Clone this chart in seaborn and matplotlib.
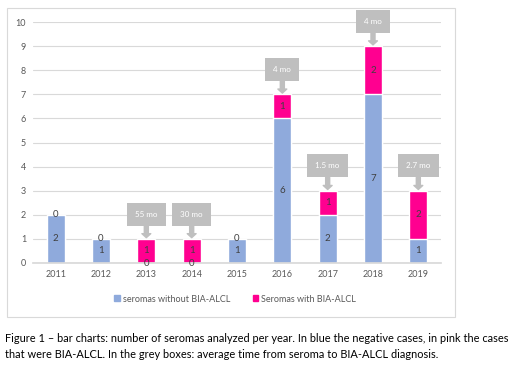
import matplotlib
matplotlib.use("Agg")
import matplotlib.pyplot as plt
import seaborn as sns
import pandas as pd
from matplotlib.patches import Rectangle, Patch

# data
years = ["2011", "2012", "2013", "2014", "2015", "2016", "2017", "2018", "2019"]
without_alcl = [2, 1, 0, 0, 1, 6, 2, 7, 1]
with_alcl = [0, 0, 1, 1, 0, 1, 1, 2, 2]
# average time from seroma to diagnosis (grey boxes), None = no box
time_to_dx = [None, None, "55 mo", "30 mo", None, "4 mo", "1.5 mo", "4 mo", "2.7 mo"]

blue = "#8faadc"
pink = "#ff0090"
grey_box = "#bfbfbf"
text_grey = "#595959"

df = pd.DataFrame({"year": years, "neg": without_alcl, "pos": with_alcl})
df["total"] = df["neg"] + df["pos"]

sns.set_theme(style="white")
plt.rcParams["font.family"] = ["Lato", "DejaVu Sans"]

fig = plt.figure(figsize=(5.2, 3.74), dpi=100)
ax = fig.add_axes([33 / 520, 1 - 263 / 374, (441 - 33) / 520, (263 - 22) / 374])

# stacked bars: total in pink, negatives drawn over in blue
sns.barplot(data=df, x="year", y="total", color=pink, width=0.39, saturation=1, ax=ax)
sns.barplot(data=df, x="year", y="neg", color=blue, width=0.39, saturation=1, ax=ax)

ax.set_ylim(0, 10)
ax.set_xlim(-0.5, len(years) - 0.5)
ax.set_yticks(range(0, 11))
ax.yaxis.grid(True, color="#d9d9d9", linewidth=0.8)
ax.set_axisbelow(True)
for s in ["top", "right", "left"]:
    ax.spines[s].set_visible(False)
ax.spines["bottom"].set_color("#d9d9d9")
ax.tick_params(axis="both", length=0, labelsize=6.5, labelcolor=text_grey, pad=5)
ax.set_xlabel("")
ax.set_ylabel("")

# value labels
for i, row in df.iterrows():
    ax.text(i, row["neg"] / 2, str(row["neg"]), ha="center", va="center",
            fontsize=7, color="#404040")
    ax.text(i, row["neg"] + row["pos"] / 2, str(row["pos"]), ha="center", va="center",
            fontsize=7, color="#404040")

# grey callout boxes with down arrows
for i, label in enumerate(time_to_dx):
    if label is None:
        continue
    ax.annotate(label, xy=(i, df["total"][i] + 0.05), xytext=(0, 17),
                textcoords="offset points", ha="center", va="center",
                fontsize=5.8, color="white",
                bbox=dict(boxstyle="square,pad=1.0", fc=grey_box, ec="none"),
                arrowprops=dict(arrowstyle="simple,head_length=0.5,head_width=1.1,tail_width=0.5",
                                color=grey_box, shrinkA=0, shrinkB=0))

# legend
handles = [Patch(color=blue, label="seromas without BIA-ALCL"),
           Patch(color=pink, label="Seromas with BIA-ALCL")]
fig.legend(handles=handles, loc="center", bbox_to_anchor=(235 / 520, 1 - 299 / 374),
           ncol=2, frameon=False, fontsize=6.5, handlelength=0.6, handleheight=0.6,
           handletextpad=0.3, columnspacing=2.5, labelcolor=text_grey)

# chart frame
fig.patches.append(Rectangle((7 / 520, 1 - 317 / 374), 448 / 520, 309 / 374,
                             transform=fig.transFigure, fill=False,
                             edgecolor="#d9d9d9", linewidth=0.8))

# caption
fig.text(5 / 520, 1 - 338 / 374,
         "Figure 1 \u2013 bar charts: number of seromas analyzed per year. In blue the negative cases, in pink the cases",
         fontsize=7.95, color="black", va="center", ha="left")
fig.text(5 / 520, 1 - 355 / 374,
         "that were BIA-ALCL. In the grey boxes: average time from seroma to BIA-ALCL diagnosis.",
         fontsize=7.95, color="black", va="center", ha="left")

fig.savefig("out.png", dpi=100)
